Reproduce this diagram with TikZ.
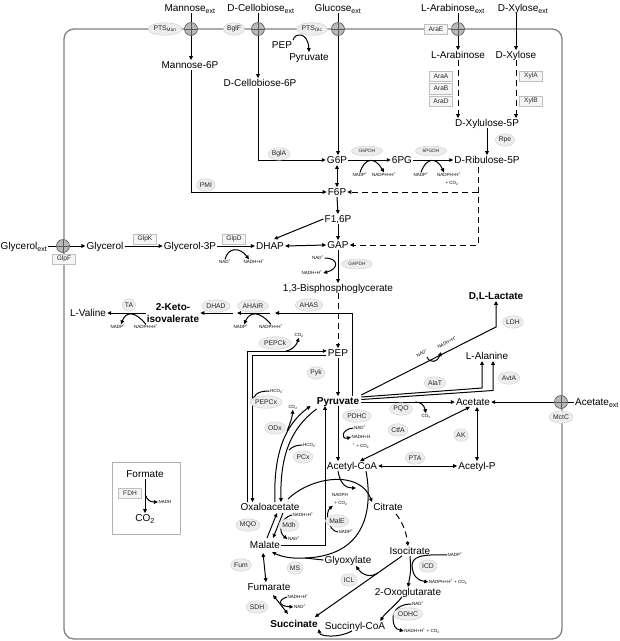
\documentclass[tikz,border=0pt]{standalone}
\usepackage{fontspec}
\setmainfont{Liberation Sans}
\usetikzlibrary{arrows.meta,shapes.geometric,calc}
\pgfdeclarelayer{bg}
\pgfsetlayers{bg,main}
\tikzset{
 met/.style={font=\fontsize{10}{11}\selectfont, inner sep=1pt, text height=7.2pt, text depth=0.2pt},
 metb/.style={met, font=\fontsize{10}{11}\selectfont\bfseries},
 enz/.style={ellipse, draw=gray!40, fill=gray!14, inner xsep=0.5pt, inner ysep=0pt, minimum height=12.5pt, font=\fontsize{6.8}{7}\selectfont, text=black!85},
 enzs/.style={enz, font=\fontsize{4.8}{5}\selectfont, minimum height=10pt, minimum width=31pt},
 enzr/.style={rectangle, draw=gray!50, fill=gray!8, inner sep=1pt, minimum height=10.5pt, minimum width=23pt, font=\fontsize{6.6}{7}\selectfont, text=black!85},
 cof/.style={font=\fontsize{4.5}{5}\selectfont, inner sep=0.5pt},
 transp/.style={circle, draw=gray!70!black, fill=gray!55, minimum size=13pt, inner sep=0pt, line width=0.6pt,
   path picture={\draw[gray!70!black, line width=0.5pt] (path picture bounding box.north) -- (path picture bounding box.south) (path picture bounding box.west) -- (path picture bounding box.east);}},
 arr/.style={-{Triangle[length=4pt,width=3.6pt]}, line width=1pt},
 darr/.style={{Triangle[length=4pt,width=3.6pt]}-{Triangle[length=4pt,width=3.6pt]}, line width=1pt},
 ln/.style={line width=1pt},
 dsh/.style={dash pattern=on 6pt off 4pt},
 membrane/.style={draw=black!50, line width=1.3pt}
}
\begin{document}
\begin{tikzpicture}[x=1pt,y=-1pt]
\useasboundingbox (0,0) rectangle (620,641);
% ---------------- metabolites
\node[met] (mext) at (190,8) {Mannose\textsubscript{ext}};
\node[met] (cext) at (261,8) {D-Cellobiose\textsubscript{ext}};
\node[met] (gext) at (338,8) {Glucose\textsubscript{ext}};
\node[met] (aext) at (453,8) {L-Arabinose\textsubscript{ext}};
\node[met] (xext) at (523,8) {D-Xylose\textsubscript{ext}};
\node[met] (man6p) at (190,65) {Mannose-6P};
\node[met] (cel6p) at (260,83) {D-Cellobiose-6P};
\node[met] (ptspep) at (282,45) {PEP};
\node[met] (ptspyr) at (309,57) {Pyruvate};
\node[met] (larab) at (458,55) {L-Arabinose};
\node[met] (dxyl) at (516,55) {D-Xylose};
\node[met] (xylu) at (487,123) {D-Xylulose-5P};
\node[met] (g6p) at (337,160) {G6P};
\node[met] (pg6) at (402,160) {6PG};
\node[met] (ribu) at (487,160) {D-Ribulose-5P};
\node[met] (f6p) at (337,192) {F6P};
\node[met] (f16p) at (338,219) {F1,6P};
\node[met] (gap) at (338,245) {GAP};
\node[met] (dhap) at (270,246) {DHAP};
\node[met] (glyext) at (24,246) {Glycerol\textsubscript{ext}};
\node[met] (gly) at (105,246) {Glycerol};
\node[met] (g3p) at (190,246) {Glycerol-3P};
\node[met] (bpg) at (338,288) {1,3-Bisphosphoglycerate};
\node[met] (val) at (88,313) {L-Valine};
\node[inner sep=1pt, align=center, font=\fontsize{10}{12}\selectfont\bfseries] (kiv) at (173,313) {2-Keto-\\isovalerate};
\node[met] (pep) at (338,353) {PEP};
\node[metb] (pyr) at (338,401) {Pyruvate};
\node[metb] (lac) at (496,296) {D,L-Lactate};
\node[met] (ala) at (487,356) {L-Alanine};
\node[met] (ace) at (473,402) {Acetate};
\node[met] (aceext) at (597,402) {Acetate\textsubscript{ext}};
\node[met] (accoa) at (352,466) {Acetyl-CoA};
\node[met] (acp) at (477,466) {Acetyl-P};
\node[met] (oaa) at (270,507) {Oxaloacetate};
\node[met] (cit) at (388,507) {Citrate};
\node[met] (mal) at (265,545) {Malate};
\node[met] (glx) at (348,560) {Glyoxylate};
\node[met] (icit) at (410,551) {Isocitrate};
\node[met] (fum) at (269,587) {Fumarate};
\node[met] (og) at (408,592) {2-Oxoglutarate};
\node[metb] (suc) at (294,624) {Succinate};
\node[met] (succoa) at (355,626) {Succinyl-CoA};
\node[met] (form) at (145,474) {Formate};
\node[met] (co2f) at (145,518) {CO\textsubscript{2}};
% ---------------- transporters
\node[transp] (tman) at (191,29) {};
\node[transp] (tcel) at (258,29) {};
\node[transp] (tglc) at (338,29) {};
\node[transp] (tara) at (458,29) {};
\node[transp] (tgly) at (63,246) {};
\node[transp] (tac) at (561,402) {};
% ---------------- enzymes
\node[enz] (ptsman) at (165,29) {PTS\textsubscript{Man}};
\node[enz] (bglf) at (234,29) {BglF};
\node[enz] (ptsglc) at (312,29) {PTS\textsubscript{Glc}};
\node[enzr] (arae) at (436,29) {AraE};
\node[enzr] (glpf) at (64,259) {GlpF};
\node[enz] (mctc) at (561,417) {MctC};
\node[enz] (bgla) at (279,154) {BglA};
\node[enz] (pmi) at (206,185) {PMI};
\node[enzs] (g6pdh) at (367,151) {G6PDH};
\node[enzs] (pgdh) at (431,151) {6PGDH};
\node[enz] (rpe) at (505,140) {Rpe};
\node[enzr] (araa) at (441,76) {AraA};
\node[enzr] (arab) at (441,88.5) {AraB};
\node[enzr] (arad) at (441,101) {AraD};
\node[enzr] (xyla) at (531,76) {XylA};
\node[enzr] (xylb) at (531,101) {XylB};
\node[enzr] (glpk) at (145,239) {GlpK};
\node[enzr] (glpd) at (234,239) {GlpD};
\node[enzs] (gapdh) at (357,264) {GAPDH};
\node[enz] (ahas) at (309,305) {AHAS};
\node[enz] (ahair) at (253,306) {AHAIR};
\node[enz] (dhad) at (216,306) {DHAD};
\node[enz] (ta) at (129,305) {TA};
\node[enz] (pepck) at (275,343) {PEPCk};
\node[enz] (pepcx) at (266,402) {PEPCx};
\node[enz] (odx) at (275,428) {ODx};
\node[enz] (pcx) at (303,457) {PCx};
\node[enz] (pyk) at (316,373) {Pyk};
\node[enz] (pdhc) at (357,416) {PDHC};
\node[enz] (pqo) at (401,409) {PQO};
\node[enz] (ctfa) at (398,430) {CtfA};
\node[enz] (ak) at (461,435) {AK};
\node[enz] (pta) at (415,458) {PTA};
\node[enz] (alat) at (435,383) {AlaT};
\node[enz] (avta) at (509,378) {AvtA};
\node[enz] (ldh) at (513,322) {LDH};
\node[enz] (male) at (337,521) {MalE};
\node[enz] (mqo) at (248,525) {MQO};
\node[enz] (mdh) at (289,525) {Mdh};
\node[enz] (fumE) at (241,565) {Fum};
\node[enz] (ms) at (295,568) {MS};
\node[enz] (sdh) at (257,607) {SDH};
\node[enz] (icl) at (349,580) {ICL};
\node[enz] (icd) at (428,566) {ICD};
\node[enz] (odhc) at (408,614) {ODHC};
\node[enzr] (fdh) at (130,493) {FDH};
% ---------------- cofactors
\node[cof] (c1) at (360,175) {NADP\textsuperscript{+}};
\node[cof] (c2) at (384,175) {NADPH+H\textsuperscript{+}};
\node[cof] (c3) at (421,175) {NADP\textsuperscript{+}};
\node[cof] (c4) at (449,175) {NADPH+H\textsuperscript{+}};
\node[cof] (c5) at (452,183) {+ CO\textsubscript{2}};
\node[cof] (c6) at (225,262) {NAD\textsuperscript{+}};
\node[cof] (c7) at (254,262) {NADH+H\textsuperscript{+}};
\node[cof] (c8) at (318,258) {NAD\textsuperscript{+}};
\node[cof] (c9) at (312,273) {NADH+H\textsuperscript{+}};
\node[cof] (c10) at (118,327) {NADP\textsuperscript{+}};
\node[cof] (c11) at (146,327) {NADPH+H\textsuperscript{+}};
\node[cof] (c12) at (241,327) {NADP\textsuperscript{+}};
\node[cof] (c13) at (271,327) {NADPH+H\textsuperscript{+}};
\node[cof] (c14) at (299,335) {CO\textsubscript{2}};
\node[cof] (c15) at (277,391) {HCO\textsubscript{3}\textsuperscript{-}};
\node[cof] (c16) at (293,407) {CO\textsubscript{2}};
\node[cof] (c17) at (310,445) {HCO\textsubscript{3}\textsuperscript{-}};
\node[cof] (c18) at (360,428) {NAD\textsuperscript{+}};
\node[cof] (c19) at (361,437) {NADH+H};
\node[cof] (c20) at (361,446) {\textsuperscript{+} + CO\textsubscript{2}};
\node[cof] (c21) at (426,416) {CO\textsubscript{2}};
\node[cof, rotate=27] (c22) at (422,353) {NAD\textsuperscript{+}};
\node[cof, rotate=27] (c23) at (447,342) {NADH+H\textsuperscript{+}};
\node[cof] (c24) at (340,495) {NADPH};
\node[cof] (c25) at (341,503) {+ CO\textsubscript{2}};
\node[cof] (c26) at (346,532) {NADP\textsuperscript{+}};
\node[cof] (c27) at (303,515) {NADH+H\textsuperscript{+}};
\node[cof] (c28) at (294,539) {NAD\textsuperscript{+}};
\node[cof] (c29) at (298,597) {NADH+H\textsuperscript{+}};
\node[cof] (c30) at (300,607) {NAD\textsuperscript{+}};
\node[cof] (c31) at (455,555) {NADP\textsuperscript{+}};
\node[cof] (c32) at (448,582) {NADPH+H\textsuperscript{+} + CO\textsubscript{2}};
\node[cof] (c33) at (418,604) {NAD\textsuperscript{+}};
\node[cof] (c34) at (422,631) {NADH+H\textsuperscript{+} + CO\textsubscript{2}};
\node[cof] (c35) at (165,502) {NADH};
% ---------------- connectors
\begin{pgfonlayer}{bg}
\draw[membrane, rounded corners=10pt] (64,29) rectangle (562,639);
\draw[draw=gray!60, line width=0.8pt] (112,462) rectangle (180,534);
% uptake
\draw[ln] (mext.south -| tman) -- (tman);
\draw[arr] (tman) -- (man6p.north -| tman);
\draw[ln] (cext.south -| tcel) -- (tcel);
\draw[arr] (tcel) -- (cel6p.north -| tcel);
\draw[ln] (gext.south -| tglc) -- (tglc);
\draw[arr] (tglc) -- (g6p.north -| tglc);
\draw[ln] (aext.south -| tara) -- (tara);
\draw[arr] (tara) -- (larab.north);
\draw[arr] (xext.south -| dxyl) -- (dxyl.north);
\draw[arr] (ptspep.north east) .. controls (294,33) and (308,31) .. (ptspyr.north);
\draw[arr] (man6p.south -| tman) |- (f6p.west);
\draw[arr] (cel6p.south -| tcel) |- (g6p.west);
% pentose
\draw[arr,dsh] (larab.south) -- (larab.south |- xylu.north);
\draw[arr,dsh] (dxyl.south) -- (dxyl.south |- xylu.north);
\draw[arr] (xylu.south) -- (ribu.north);
\draw[darr] (g6p.south) -- (f6p.north);
\draw[arr] (g6p.east) -- (pg6.west);
\draw[arr] (pg6.east) -- (ribu.west);
\draw[arr] (c1.north) .. controls (365,157) and (375,157) .. (c2.north);
\draw[arr] (c3.north) .. controls (426,157) and (437,157) .. ($(c4.north)+(-5,0)$);
\coordinate (rd1) at (478,167);
\draw[arr,dsh] (rd1) |- (gap.east);
\draw[arr,dsh] (rd1 |- f6p) -- (f6p.east);
% glycolysis
\draw[arr] (f6p.south) -- (f16p.north);
\draw[arr] (f16p.south) -- (gap.north);
\draw[arr] (f16p.west) -- ($(dhap.north)+(4,-2)$);
\draw[darr] (dhap.east) -- (gap.west);
\draw[ln] (glyext.east) -- (tgly);
\draw[arr] (tgly) -- (gly.west);
\draw[arr] (gly.east) -- (g3p.west);
\draw[arr] (g3p.east) -- (dhap.west);
\draw[arr] (c6.north) .. controls (228,247) and (240,247) .. ($(c7.north)+(-5,0)$);
\draw[arr] (gap.south) -- (bpg.north);
\draw[arr] (c8.east) .. controls (339,258) and (339,269) .. (c9.east);
\draw[arr,dsh] (bpg.south) -- (pep.north);
% valine
\coordinate (v1) at (275,313);
\coordinate (v2) at (270,313);
\coordinate (v3) at (237,313);
\coordinate (v4) at (233,313);
\draw[arr] (pyr.north -| 352,0) |- (v1);
\draw[arr] (v2) -- (v3);
\draw[arr] (v4) -- (kiv.east);
\draw[arr] (kiv.west) -- (val.east);
\draw[arr] (c13.north) .. controls (260,311) and (250,311) .. ($(c12.north)+(3,0)$);
\draw[arr] (c11.north) .. controls (135,311) and (126,311) .. ($(c10.north)+(3,0)$);
% PEP / OAA
\draw[arr] (oaa.north -| 247,0) |- ($(pep.west)+(0,-2)$);
\draw[arr] ($(pep.west)+(-1,2.5)$) -| (oaa.north -| 252.5,0);
\draw[arr] (286,351) .. controls (292,350) and (296,346) .. (c14.south);
\draw[ln] (c15.west) .. controls (257,391) and (252.5,395) .. (252.5,404);
\draw[arr] (pep.south) -- (pyr.north);
\draw[arr] (oaa.north -| 275,0) .. controls (273,452) and (286,424) .. ($(pyr.south west)+(-5,0)$);
\draw[arr] ($(pyr.south west)+(1,3)$) .. controls (291,428) and (280,455) .. (oaa.north -| 281,0);
\draw[arr] (287,431) .. controls (290,424) and (292,418) .. (c16.south);
\draw[ln] (c17.west) .. controls (296,445) and (292,447) .. (289,450);
\draw[arr] (mal.east) -| (pyr.south -| 325,0);
\draw[arr] (c26.west) .. controls (328,531) and (325,512) .. ($(c25.south west)+(-1,0)$);
% pyruvate branches
\draw[arr] (pyr.south) -- (pyr.south |- accoa.north);
\draw[arr] (c18.west) .. controls (341,429) and (341,440) .. (c19.west);
\coordinate (lk) at (lac.south |- 0,327);
\draw[arr] ($(pyr.east)+(1,-6)$) -- (lk) -- (lac.south);
\draw[arr] (427,357) .. controls (430,364) and (438,362) .. (441,352);
\draw[arr] ($(pyr.east)+(1,-4)$) -- (482,388) -- (ala.south -| 482,0);
\draw[arr] ($(pyr.east)+(1,-1.5)$) -- (493,390.5) -- (ala.south -| 493,0);
\draw[arr] ($(pyr.east)+(1,1)$) -- (ace.west);
\draw[arr] (415,402) .. controls (421,402) and (424,405) .. (c21.north);
\draw[ln] (aceext.west) -- (tac);
\draw[arr] (tac) -- (ace.east);
\draw[darr] ($(accoa.north)+(8,0)$) -- ($(ace.south)+(-3,0)$);
\draw[darr] (accoa.east) -- (acp.west);
\draw[darr] (acp.north |- ace.south) -- (acp.north);
% TCA
\draw[arr] (288,499) .. controls (312,476) and (360,470) .. (cit.north west);
\draw[arr] (accoa.south -| 338,0) .. controls (340,484) and (346,488) .. (356,488);
\coordinate (msj) at (305,558);
\draw[arr] ($(accoa.south)+(14,0)$) .. controls (374,515) and (362,556) .. (msj) .. controls (290,559) and (280,556) .. (272,552);
\draw[ln] (glx.west) -- (msj);
\draw[arr,dsh] ($(cit.south)+(8,2)$) .. controls (402,522) and (406,530) .. ($(icit.north)+(-2,0)$);
\draw[arr] (icit.south) .. controls (411,570) .. (og.north);
\draw[ln] (c31.west) .. controls (420,554) and (412,557) .. (412,566);
\draw[arr] (412,566) .. controls (413,575) and (416,580) .. (c32.west);
\draw[arr] (402,556) -- ($(suc.north east)+(-4,-2)$);
\draw[arr] (378,573) .. controls (370,578) and (362,575) .. ($(glx.south)+(8,1)$);
\draw[arr] ($(og.south)+(-6,0)$) .. controls (395,606) and (386,612) .. ($(succoa.north east)+(-6,0)$);
\draw[ln] (c33.west) .. controls (400,604) and (393,610) .. (393,618);
\draw[arr] (393,618) .. controls (393,625) and (395,629) .. (c34.west);
\draw[arr] ($(succoa.south)+(-3,0)$) .. controls (340,638) and (320,637) .. (suc.south east);
\draw[arr] (267,538) -- (277,513);
\draw[arr] (283,513) -- (273,538);
\draw[arr] (c27.west) .. controls (280,518) and (278,532) .. (c28.west);
\draw[darr] ($(mal.south)+(-2,3)$) -- ($(fum.north)+(-3,0)$);
\draw[darr] (273,595) -- (288,614);
\draw[arr] (c29.west) .. controls (278,600) and (278,606) .. (c30.west);
% formate
\draw[arr] (form.south) -- (co2f.north);
\draw[arr] (145,494) .. controls (147,500) and (150,502) .. (c35.west);
\end{pgfonlayer}
\end{tikzpicture}
\end{document}
